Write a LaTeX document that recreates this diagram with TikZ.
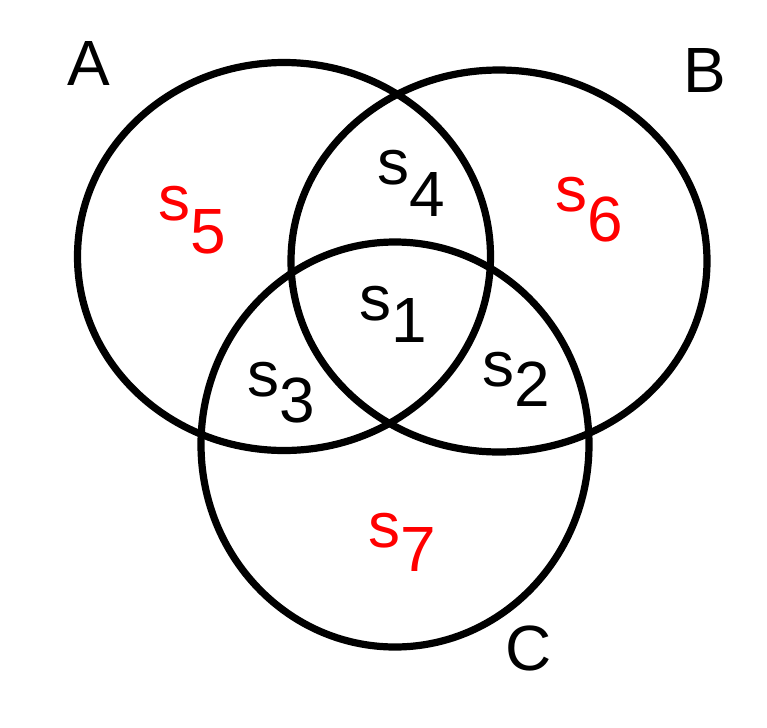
\documentclass[tikz,border=0pt]{standalone}
\usepackage{fontspec}
\setmainfont{Liberation Sans}
\usepackage{tikz}

\newcommand{\sreg}[2]{s\raisebox{-#2em}{#1}}

\begin{document}
\begin{tikzpicture}[x=0.02cm,y=-0.02cm,line width=4.1pt,
	every node/.style={black,inner sep=0pt,font=\fontsize{36.4}{40}\selectfont}]
	\useasboundingbox (0,0) rectangle (767,727);
	\draw (284,256.5) ellipse [x radius=206.5,y radius=194];
	\draw (499,261) ellipse [x radius=208,y radius=191];
	\draw (395,444.5) ellipse [x radius=194,y radius=202.5];
	\node (A) at (89,63) {A};
	\node (B) at (705,70.5) {B};
	\node (C) at (529,648) {C};
	\node (s1) at (393,314.5) {\sreg{1}{0.34}};
	\node (s2) at (516,379.5) {\sreg{2}{0.31}};
	\node (s3) at (281,392.5) {\sreg{3}{0.41}};
	\node (s4) at (411,183.5) {\sreg{4}{0.5}};
	\node[red] (s5) at (192,220) {\sreg{5}{0.52}};
	\node[red] (s6) at (589,210) {\sreg{6}{0.47}};
	\node[red] (s7) at (402,542) {\sreg{7}{0.375}};
\end{tikzpicture}
\end{document}
